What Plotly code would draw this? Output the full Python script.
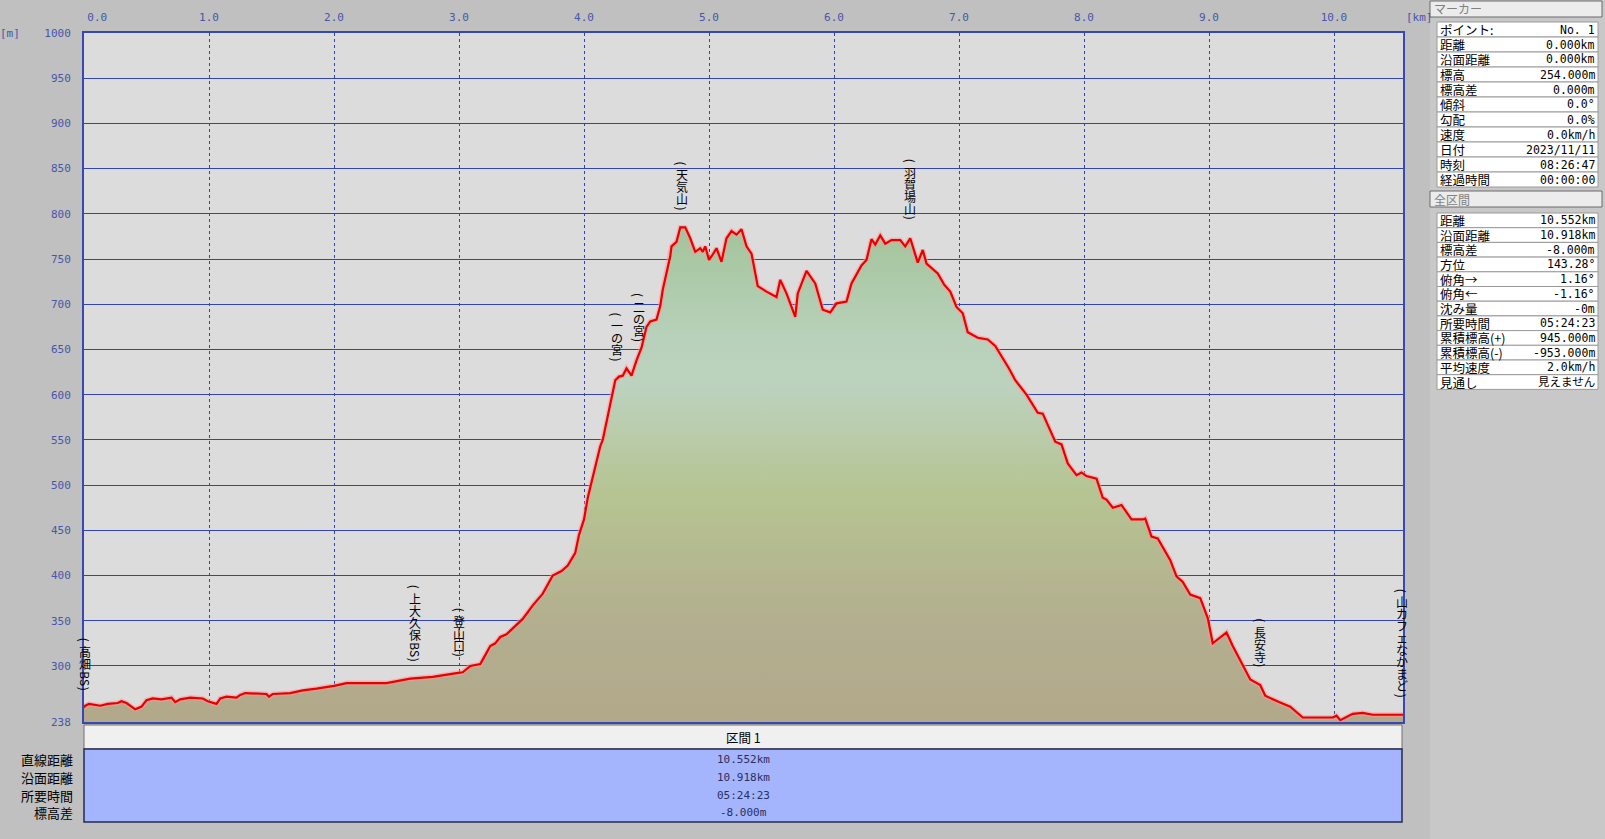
import plotly.graph_objects as go

# ---------------- data ----------------
dist_km = [0.00, 0.01, 0.04, 0.13, 0.19, 0.27, 0.30, 0.34, 0.41, 0.46, 0.50, 0.55, 0.62, 0.70, 0.73,
           0.77, 0.85, 0.95, 0.99, 1.06, 1.09, 1.14, 1.22, 1.25, 1.29, 1.46, 1.48, 1.51, 1.65, 1.75,
           1.86, 2.00, 2.10, 2.42, 2.61, 2.79, 2.98, 3.03, 3.09, 3.17, 3.19, 3.25, 3.29, 3.33, 3.38,
           3.51, 3.59, 3.67, 3.75, 3.82, 3.87, 3.93, 3.96, 4.00, 4.03, 4.07, 4.09, 4.13, 4.15, 4.19,
           4.22, 4.25, 4.28, 4.31, 4.34, 4.38, 4.42, 4.46, 4.50, 4.53, 4.58, 4.61, 4.63, 4.66, 4.69,
           4.70, 4.74, 4.77, 4.81, 4.85, 4.89, 4.93, 4.95, 4.97, 5.00, 5.03, 5.06, 5.10, 5.14, 5.18,
           5.22, 5.26, 5.30, 5.34, 5.39, 5.46, 5.54, 5.57, 5.62, 5.69, 5.71, 5.78, 5.85, 5.91, 5.97,
           6.02, 6.10, 6.14, 6.22, 6.26, 6.30, 6.33, 6.37, 6.41, 6.46, 6.53, 6.57, 6.61, 6.67, 6.71,
           6.74, 6.83, 6.88, 6.93, 6.98, 7.03, 7.07, 7.15, 7.23, 7.29, 7.34, 7.40, 7.45, 7.54, 7.63,
           7.67, 7.77, 7.82, 7.87, 7.94, 7.98, 8.02, 8.10, 8.15, 8.18, 8.23, 8.30, 8.38, 8.47, 8.49,
           8.54, 8.59, 8.69, 8.74, 8.79, 8.85, 8.93, 8.99, 9.03, 9.09, 9.14, 9.19, 9.27, 9.33, 9.41,
           9.45, 9.56, 9.65, 9.75, 9.99, 10.02, 10.05, 10.15, 10.23, 10.31, 10.552]
elev_m = [254, 256, 258, 256, 258, 259, 261, 259, 252, 255, 262, 264, 263, 265, 260,
          263, 265, 264, 261, 258, 264, 266, 265, 268, 270, 269, 266, 269, 270, 273,
          275, 278, 281, 281, 286, 288, 292, 293, 300, 302, 307, 322, 325, 332, 335,
          352, 367, 380, 400, 405, 411, 425, 445, 462, 486, 510, 521, 543, 550, 576,
          598, 616, 620, 621, 629, 621, 638, 652, 675, 681, 683, 698, 716, 734, 753,
          764, 769, 785, 785, 773, 758, 762, 758, 764, 749, 755, 762, 747, 773, 781,
          777, 783, 764, 756, 720, 714, 708, 727, 712, 686, 712, 737, 723, 694, 691,
          701, 703, 723, 743, 749, 772, 766, 776, 767, 771, 771, 764, 773, 746, 760,
          745, 734, 722, 714, 697, 690, 669, 663, 661, 654, 643, 629, 616, 600, 580,
          579, 548, 545, 524, 511, 514, 510, 507, 486, 484, 475, 478, 462, 462, 463,
          443, 441, 417, 399, 393, 379, 375, 353, 325, 331, 337, 322, 300, 285, 279,
          267, 260, 255, 243, 243, 245, 240, 247, 248, 246, 246]

wp_names = ["(高畑BS)", "(上大久保BS)", "(登山口)", "(一の宮)", "(二の宮)",
            "(天気山)", "(羽賀場山)", "(長安寺)", "(山カフェなかまど)"]
wp_km = [0.01, 2.65, 3.00, 4.26, 4.44, 4.78, 6.61, 9.41, 10.54]
wp_elev = [254, 286, 292, 619, 640, 786, 775, 280, 247]

x_tick_vals = [0, 1, 2, 3, 4, 5, 6, 7, 8, 9, 10]
x_tick_text = ["0.0", "1.0", "2.0", "3.0", "4.0", "5.0", "6.0", "7.0", "8.0", "9.0", "10.0"]
y_tick_vals = [238, 300, 350, 400, 450, 500, 550, 600, 650, 700, 750, 800, 850, 900, 950, 1000]

marker_labels = ["ポイント:", "距離", "沿面距離", "標高", "標高差", "傾斜", "勾配", "速度", "日付", "時刻", "経過時間"]
marker_values = ["No. 1", "0.000km", "0.000km", "254.000m", "0.000m", "0.0°", "0.0%", "0.0km/h",
                 "2023/11/11", "08:26:47", "00:00:00"]
total_labels = ["距離", "沿面距離", "標高差", "方位", "俯角→", "俯角←", "沈み量", "所要時間",
                "累積標高(+)", "累積標高(-)", "平均速度", "見通し"]
total_values = ["10.552km", "10.918km", "-8.000m", "143.28°", "1.16°", "-1.16°", "-0m", "05:24:23",
                "945.000m", "-953.000m", "2.0km/h", "見えません"]
section_title = "区間 1"
section_labels = ["直線距離", "沿面距離", "所要時間", "標高差"]
section_values = ["10.552km", "10.918km", "05:24:23", "-8.000m"]

# ---------------- styling ----------------
JP = "Noto Sans CJK JP"
MONO = "DejaVu Sans Mono, Noto Sans CJK JP"
AXIS_TXT = "#4656a8"
GRID = "#3343b2"

L, T, W, H = 84, 33, 1319, 689


def fx(px):
    return (px - L) / W


def fy(py):
    return (T + H - py) / H


fig = go.Figure()

fig.add_trace(go.Scatter(
    x=dist_km, y=elev_m, mode="none", fill="tozeroy",
    fillgradient=dict(type="vertical", start=238, stop=800,
                      colorscale=[[0.0, "rgb(178,168,138)"], [0.2, "rgb(179,175,143)"],
                                  [0.45, "rgb(182,196,146)"], [0.66, "rgb(188,210,190)"],
                                  [0.76, "rgb(184,209,186)"], [1.0, "rgb(160,194,150)"]]),
    hoverinfo="skip"))
fig.add_trace(go.Scatter(x=dist_km, y=elev_m, mode="lines",
                         line=dict(color="rgba(255,150,150,0.55)", width=5), hoverinfo="skip"))
fig.add_trace(go.Scatter(x=dist_km, y=elev_m, mode="lines",
                         line=dict(color="#e60000", width=2.2)))

annotations = []
shapes = []

# ---- waypoint labels: vertical text built from runs ----
GAP = 16
CJK_FS = 12
LINE = 12  # vertical advance of a CJK glyph


def split_runs(name):
    out = []
    for c in name:
        if c in "()":
            out.append(["paren", c])
        elif ord(c) < 128:
            if out and out[-1][0] == "ascii":
                out[-1][1] += c
            else:
                out.append(["ascii", c])
        else:
            if out and out[-1][0] == "cjk":
                out[-1][1] += c
            else:
                out.append(["cjk", c])
    return out


def extent(kind, txt):
    if kind == "paren":
        return 5
    if kind == "ascii":
        return 8 * len(txt)
    return LINE * len(txt)


for name, km, ev in zip(wp_names, wp_km, wp_elev):
    runs = split_runs(name)
    placed = []
    pos = 0.0
    prev = None
    for kind, txt in runs:
        if prev is not None:
            if kind == "cjk" and prev != "cjk":
                pos += 2.5
            elif prev == "cjk" and kind != "cjk":
                pos += 1.5
        e = extent(kind, txt)
        placed.append((kind, txt, pos, e))
        pos += e
        prev = kind
    total = pos
    for kind, txt, top, e in placed:
        shift = GAP + total - (top + e / 2)
        if kind == "cjk":
            text = "<br>".join('<span style="font-size:%dpx">%s</span>' % (CJK_FS, c) for c in txt)
            annotations.append(dict(x=km, y=ev, xref="x", yref="y", text=text, showarrow=False,
                                    xanchor="center", yanchor="middle", yshift=shift - 0.6, borderpad=0,
                                    font=dict(family=JP, size=LINE / 1.3, color="#000000")))
        else:
            annotations.append(dict(x=km, y=ev, xref="x", yref="y", text=txt, showarrow=False,
                                    xanchor="center", yanchor="middle", yshift=shift, borderpad=0,
                                    textangle=90, font=dict(family=JP, size=12, color="#000000")))

# axis unit labels
annotations.append(dict(x=fx(10), y=fy(34), xref="paper", yref="paper", text="[m]", showarrow=False,
                        xanchor="center", yanchor="middle", font=dict(family=MONO, size=11, color=AXIS_TXT)))
annotations.append(dict(x=fx(1404), y=fy(17), xref="paper", yref="paper", text="[km]", showarrow=False,
                        xanchor="left", yanchor="middle", font=dict(family=MONO, size=11, color=AXIS_TXT)))

# ---- right panel ----
shapes.append(dict(type="rect", xref="paper", yref="paper", x0=fx(1430), x1=fx(1605), y0=fy(839), y1=fy(0),
                   fillcolor="#c8c8c8", line=dict(width=0), layer="below"))


def header(y0, y1, text):
    shapes.append(dict(type="rect", xref="paper", yref="paper", x0=fx(1430), x1=fx(1602), y0=fy(y1), y1=fy(y0),
                       fillcolor="#ececec", line=dict(color="#6a6a6a", width=1)))
    annotations.append(dict(x=fx(1432), y=fy((y0 + y1) / 2), xref="paper", yref="paper", text=text,
                            showarrow=False, xanchor="left", yanchor="middle",
                            font=dict(family=JP, size=12, color="#808080")))


def table(top, rowh, labels, values):
    for i, (lab, val) in enumerate(zip(labels, values)):
        y0 = top + i * rowh
        shapes.append(dict(type="rect", xref="paper", yref="paper", x0=fx(1437), x1=fx(1598),
                           y0=fy(y0 + rowh), y1=fy(y0), fillcolor="#ffffff",
                           line=dict(color="#9a9a9a", width=1)))
        annotations.append(dict(x=fx(1439), y=fy(y0 + rowh / 2), xref="paper", yref="paper", text=lab,
                                showarrow=False, xanchor="left", yanchor="middle", borderpad=0,
                                font=dict(family=JP, size=12.5, color="#000000")))
        annotations.append(dict(x=fx(1596), y=fy(y0 + rowh / 2), xref="paper", yref="paper", text=val,
                                showarrow=False, xanchor="right", yanchor="middle", borderpad=0,
                                font=dict(family=MONO, size=11.5, color="#000000")))


header(1, 17, "マーカー")
table(22, 15, marker_labels, marker_values)
header(191, 207, "全区間")
table(213, 14.7, total_labels, total_values)

# ---- bottom section table ----
shapes.append(dict(type="rect", xref="paper", yref="paper", x0=fx(84), x1=fx(1402), y0=fy(749), y1=fy(725),
                   fillcolor="#f0f0f0", line=dict(color="#707070", width=1)))
shapes.append(dict(type="rect", xref="paper", yref="paper", x0=fx(84), x1=fx(1402), y0=fy(822), y1=fy(749),
                   fillcolor="#a5b5fd", line=dict(color="#252a50", width=1.5)))
annotations.append(dict(x=fx(743), y=fy(737), xref="paper", yref="paper", text=section_title,
                        showarrow=False, xanchor="center", yanchor="middle",
                        font=dict(family=JP, size=12.5, color="#000000")))
row_y = [759, 777, 795, 812]
for lab, val, yy in zip(section_labels, section_values, row_y):
    annotations.append(dict(x=fx(74), y=fy(yy), xref="paper", yref="paper", text=lab, showarrow=False,
                            xanchor="right", yanchor="middle", borderpad=0,
                            font=dict(family=JP, size=13, color="#000000")))
    annotations.append(dict(x=fx(743), y=fy(yy), xref="paper", yref="paper", text=val, showarrow=False,
                            xanchor="center", yanchor="middle", borderpad=0,
                            font=dict(family=MONO, size=11, color="#2a2f60")))

# first x tick label sits just inside the frame, as in the original
x_tick_labels_shown = ["\u00a0\u00a0\u00a0\u00a0" + x_tick_text[0]] + x_tick_text[1:]

fig.update_layout(
    width=1605, height=839,
    margin=dict(l=L, r=1605 - L - W, t=T, b=839 - T - H, autoexpand=False),
    paper_bgcolor="#c0c0c0", plot_bgcolor="#dcdcdc",
    showlegend=False,
    xaxis=dict(range=[0, 10.552], side="top", tickmode="array", tickvals=x_tick_vals,
               ticktext=x_tick_labels_shown,
               tickfont=dict(family=MONO, size=11, color=AXIS_TXT), ticks="", ticklabelstandoff=6,
               showgrid=True, gridcolor=GRID, gridwidth=1, griddash="dot", zeroline=False,
               showline=True, linecolor="#3848b0", linewidth=2, mirror=True, fixedrange=True),
    yaxis=dict(range=[238, 1000], tickmode="array", tickvals=y_tick_vals,
               tickfont=dict(family=MONO, size=11, color=AXIS_TXT), ticks="", ticklabelstandoff=9,
               showgrid=True, gridcolor=GRID, gridwidth=1, zeroline=False,
               showline=True, linecolor="#3848b0", linewidth=2, mirror=True, fixedrange=True),
    annotations=annotations,
    shapes=shapes,
)

fig.write_html("out.html", config={"displayModeBar": False},
               post_script="document.body.style.margin='0px';document.body.style.overflow='hidden';")
